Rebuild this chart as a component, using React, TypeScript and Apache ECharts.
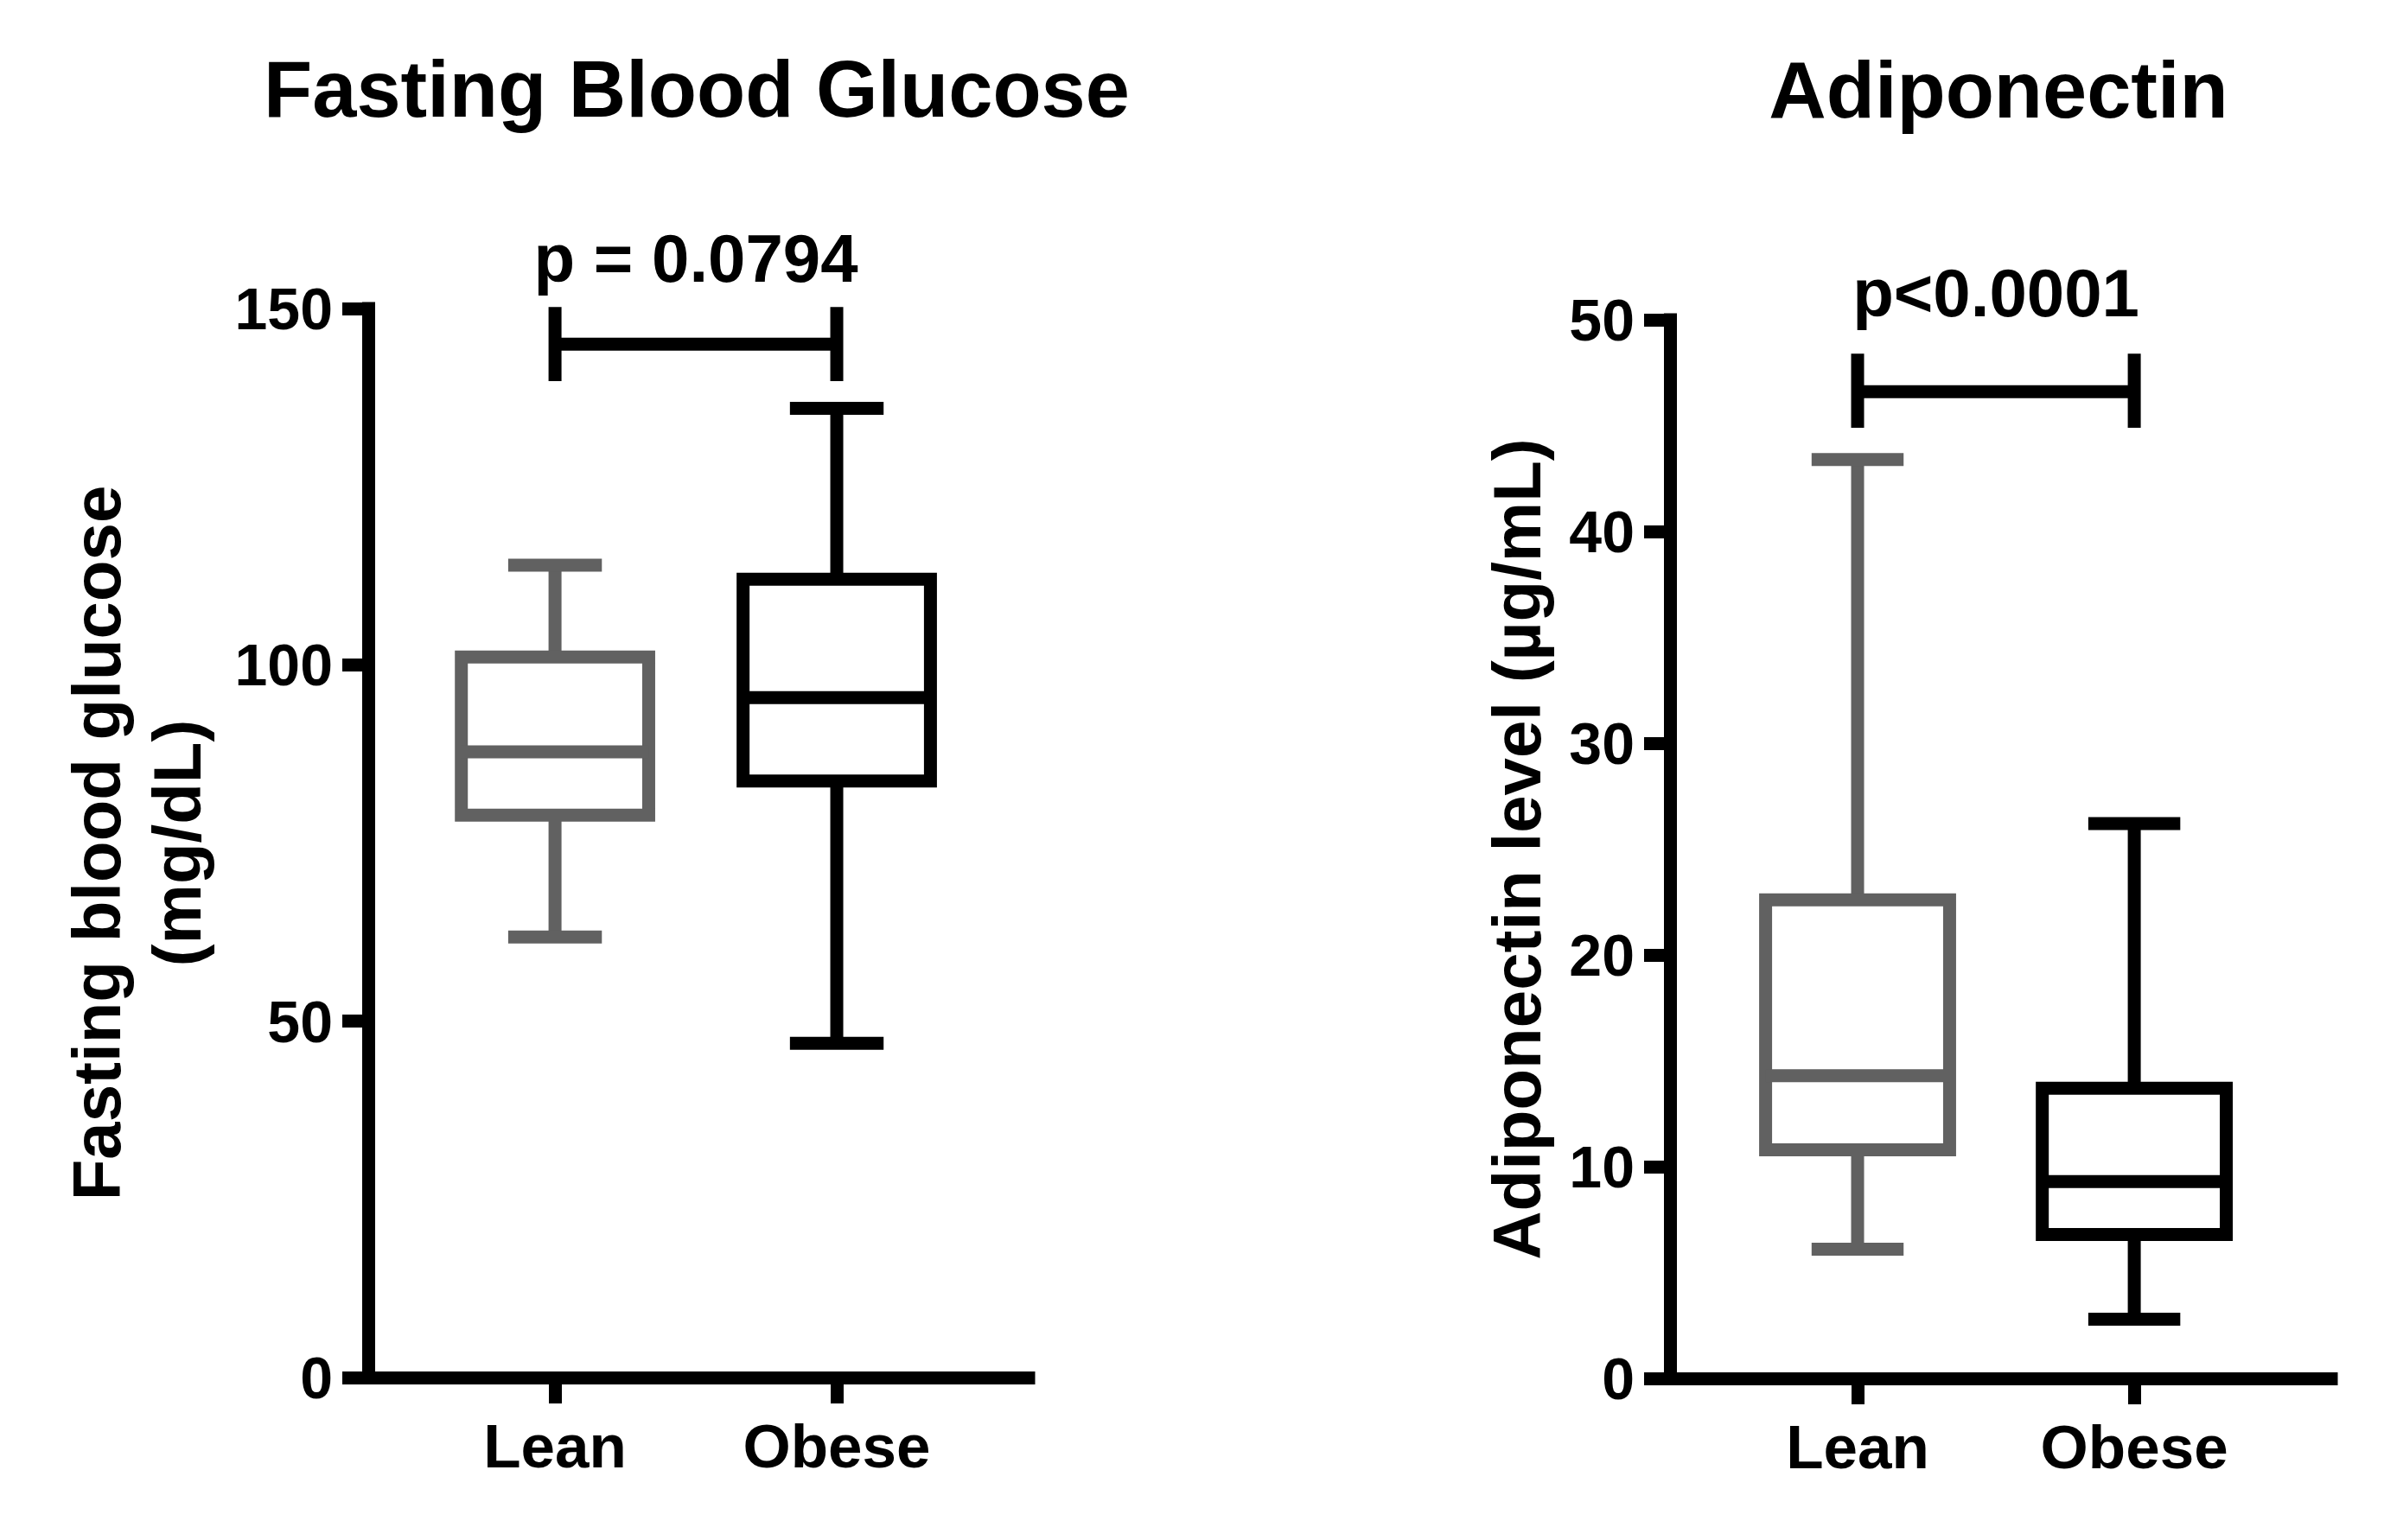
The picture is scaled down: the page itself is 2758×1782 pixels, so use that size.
import React, { useEffect, useRef } from "react";
import * as echarts from "echarts";

// ---------- data ----------
const groups = ["Lean", "Obese"];
// five-number summaries: [min, Q1, median, Q3, max]
const glucoseLean = [61.8, 78.9, 87.8, 101.1, 114.0];
const glucoseObese = [46.9, 83.7, 95.4, 112.0, 136.0];
const adiponectinLean = [6.1, 10.8, 14.3, 22.6, 43.4];
const adiponectinObese = [2.8, 6.8, 9.3, 13.7, 26.2];
// significance brackets: [bar level, end top, end bottom]
const glucoseBracket = [145.0, 150.2, 139.8];
const adiponectinBracket = [46.6, 48.4, 44.9];
const glucoseP = "p = 0.0794";
const adiponectinP = "p<0.0001";
const titles = ["Fasting Blood Glucose", "Adiponectin"];
const yNames = ["Fasting blood glucose\n(mg/dL)", "Adiponectin level (µg/mL)"];
const glucoseAxis = { min: 0, max: 150, interval: 50 };
const adiponectinAxis = { min: 0, max: 50, interval: 10 };

// ---------- styles ----------
const FONT = "'Liberation Sans', Arial, Helvetica, sans-serif";
const groupColors = ["#616161", "#000000"];
const LW = 15;
const BOX_FRAC = 0.665;
const CAP_FRAC = 0.5;

const panels = [
  {
    grid: { left: 426, top: 357, width: 764, height: 1237 },
    xRange: [0.337, 2.681],
    yAxis: glucoseAxis,
    stats: [glucoseLean, glucoseObese],
    bracket: glucoseBracket,
    p: glucoseP,
    pOffset: 56,
    title: titles[0],
    titlePos: [806, 103],
    yName: yNames[0],
    nameGap: 175,
  },
  {
    grid: { left: 1932, top: 370, width: 765, height: 1225 },
    xRange: [0.322, 2.712],
    yAxis: adiponectinAxis,
    stats: [adiponectinLean, adiponectinObese],
    bracket: adiponectinBracket,
    p: adiponectinP,
    pOffset: 70,
    title: titles[1],
    titlePos: [2312, 104],
    yName: yNames[1],
    nameGap: 131,
  },
];

function renderBox(params: any, api: any) {
  const x = api.value(0);
  const ys = [1, 2, 3, 4, 5].map((i) => api.coord([x, api.value(i)])[1]);
  const cx = api.coord([x, 0])[0];
  const [yMin, yQ1, yMed, yQ3, yMax] = ys;
  const bw = api.size([1, 0])[0] * BOX_FRAC;
  const cw = bw * CAP_FRAC;
  const color = groupColors[params.dataIndex % groupColors.length];
  const st = { stroke: color, lineWidth: LW, fill: "none" };
  return {
    type: "group",
    children: [
      { type: "line", shape: { x1: cx, y1: yMax, x2: cx, y2: yQ3 }, style: st },
      { type: "line", shape: { x1: cx, y1: yQ1, x2: cx, y2: yMin }, style: st },
      { type: "line", shape: { x1: cx - cw / 2, y1: yMax, x2: cx + cw / 2, y2: yMax }, style: st },
      { type: "line", shape: { x1: cx - cw / 2, y1: yMin, x2: cx + cw / 2, y2: yMin }, style: st },
      {
        type: "rect",
        shape: { x: cx - bw / 2, y: yQ3, width: bw, height: yQ1 - yQ3 },
        style: { stroke: color, lineWidth: LW, fill: "#ffffff", lineJoin: "miter" },
      },
      { type: "line", shape: { x1: cx - bw / 2, y1: yMed, x2: cx + bw / 2, y2: yMed }, style: st },
    ],
  };
}

function makeBracketRenderer(text: string, offset: number) {
  return function (params: any, api: any) {
    const x1 = api.value(0);
    const x2 = api.value(1);
    const bar = api.value(2);
    const top = api.value(3);
    const bottom = api.value(4);
    const [px1, pyBar] = api.coord([x1, bar]);
    const [px2] = api.coord([x2, bar]);
    const pyTop = api.coord([x1, top])[1];
    const pyBottom = api.coord([x1, bottom])[1];
    const st = { stroke: "#000", lineWidth: LW, fill: "none" };
    return {
      type: "group",
      children: [
        { type: "line", shape: { x1: px1, y1: pyBar, x2: px2, y2: pyBar }, style: st },
        { type: "line", shape: { x1: px1, y1: pyTop, x2: px1, y2: pyBottom }, style: st },
        { type: "line", shape: { x1: px2, y1: pyTop, x2: px2, y2: pyBottom }, style: st },
        {
          type: "text",
          x: (px1 + px2) / 2,
          y: pyTop - offset,
          style: {
            text,
            fill: "#000",
            fontSize: 78,
            fontWeight: "bold",
            fontFamily: FONT,
            align: "center",
            verticalAlign: "middle",
          },
        },
      ],
    };
  };
}

function buildOption() {
  const grid: any[] = [];
  const xAxis: any[] = [];
  const yAxis: any[] = [];
  const series: any[] = [];
  const graphic: any[] = [];
  panels.forEach((pn, i) => {
    grid.push({ ...pn.grid, containLabel: false });
    xAxis.push({
      gridIndex: i,
      type: "value",
      min: pn.xRange[0],
      max: pn.xRange[1],
      axisLine: { show: true, onZero: false, lineStyle: { color: "#000", width: LW, cap: "square" } },
      axisTick: { show: true, length: 30, customValues: [1, 2], lineStyle: { color: "#000", width: LW } },
      axisLabel: {
        customValues: [1, 2],
        formatter: (v: number) => groups[Math.round(v) - 1] ?? "",
        margin: 44,
        fontSize: 71,
        fontWeight: "bold",
        fontFamily: FONT,
        color: "#000",
      },
      splitLine: { show: false },
    });
    yAxis.push({
      gridIndex: i,
      type: "value",
      min: pn.yAxis.min,
      max: pn.yAxis.max,
      interval: pn.yAxis.interval,
      axisLine: { show: true, onZero: false, lineStyle: { color: "#000", width: LW, cap: "square" } },
      axisTick: { show: true, length: 30, lineStyle: { color: "#000", width: LW } },
      axisLabel: { margin: 41, fontSize: 68, fontWeight: "bold", fontFamily: FONT, color: "#000" },
      splitLine: { show: false },
      name: pn.yName,
      nameLocation: "middle",
      nameRotate: 90,
      nameGap: pn.nameGap,
      nameTextStyle: {
        fontSize: 78,
        fontWeight: "bold",
        fontFamily: FONT,
        color: "#000",
        lineHeight: 93,
        align: "center",
      },
    });
    series.push({
      type: "custom",
      xAxisIndex: i,
      yAxisIndex: i,
      renderItem: renderBox,
      encode: { x: 0, y: [1, 2, 3, 4, 5] },
      data: pn.stats.map((s, k) => [k + 1, ...s]),
      clip: false,
      silent: true,
    });
    series.push({
      type: "custom",
      xAxisIndex: i,
      yAxisIndex: i,
      renderItem: makeBracketRenderer(pn.p, pn.pOffset),
      encode: { x: [0, 1], y: [2, 3, 4] },
      data: [[1, 2, ...pn.bracket]],
      clip: false,
      silent: true,
    });
    graphic.push({
      type: "text",
      x: pn.titlePos[0],
      y: pn.titlePos[1],
      style: {
        text: pn.title,
        fill: "#000",
        fontSize: 92,
        fontWeight: "bold",
        fontFamily: FONT,
        align: "center",
        verticalAlign: "middle",
      },
    });
  });
  return {
    animation: false,
    backgroundColor: "#ffffff",
    grid,
    xAxis,
    yAxis,
    series,
    graphic,
  };
}

export default function App() {
  const ref = useRef<HTMLDivElement>(null);
  useEffect(() => {
    document.body.style.margin = "0";
    if (!ref.current) return;
    const chart = echarts.init(ref.current, null, { renderer: "svg" });
    chart.setOption(buildOption() as any);
    return () => chart.dispose();
  }, []);
  return (
    <div
      ref={ref}
      style={{ position: "absolute", left: 0, top: 0, width: 2758, height: 1782, background: "#fff" }}
    />
  );
}
